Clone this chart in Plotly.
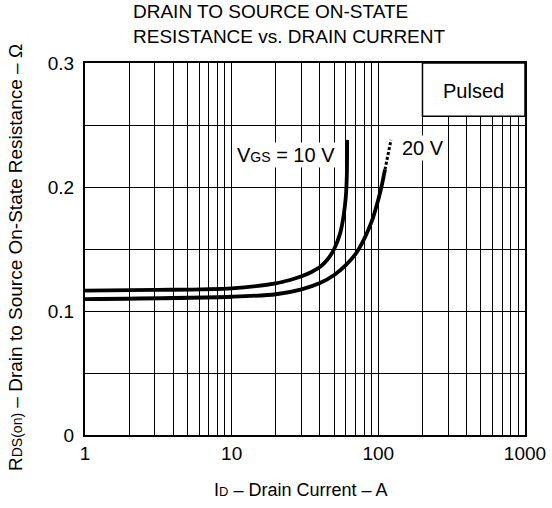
import plotly.graph_objects as go

# Data
vgs10_x = [1, 3, 10, 20, 25, 30, 35, 40, 45, 50, 55, 58, 60, 61, 61.3]
vgs10_y = [0.1165, 0.117, 0.1183, 0.1223, 0.125, 0.128, 0.1315, 0.1355, 0.1415, 0.150, 0.163, 0.177, 0.192, 0.210, 0.238]

vgs20_x = [1, 10, 20, 30, 40, 50, 60, 70, 80, 90, 100, 105, 111]
vgs20_y = [0.1095, 0.1115, 0.1135, 0.1175, 0.1225, 0.129, 0.137, 0.146, 0.158, 0.172, 0.190, 0.200, 0.214]

vgs20_dash_x = [111, 116, 122]
vgs20_dash_y = [0.214, 0.226, 0.238]

x_grid = [m * 10 ** d for d in range(3) for m in range(1, 10)] + [1000]
x_ticktext = [str(v) if v in (1, 10, 100, 1000) else "" for v in x_grid]
y_grid = [0, 0.05, 0.1, 0.15, 0.2, 0.25, 0.3]
y_ticktext = ["0", "", "0.1", "", "0.2", "", "0.3"]

FONT = "Liberation Sans, Arial, Helvetica, sans-serif"
L, R, T, B, W, H = 85, 27, 63, 73, 552, 508
PW, PH = W - L - R, H - T - B


def px(xp):
    return (xp - L) / PW


def py(yp):
    return (H - B - yp) / PH


fig = go.Figure()
fig.add_trace(go.Scatter(x=vgs10_x, y=vgs10_y, mode="lines",
                         line=dict(color="black", width=3.8, shape="spline", smoothing=0.8),
                         hoverinfo="skip", showlegend=False))
fig.add_trace(go.Scatter(x=vgs20_x, y=vgs20_y, mode="lines",
                         line=dict(color="black", width=3.8, shape="spline", smoothing=0.8),
                         hoverinfo="skip", showlegend=False))
fig.add_trace(go.Scatter(x=vgs20_dash_x, y=vgs20_dash_y, mode="lines",
                         line=dict(color="black", width=3, dash="3px,2px"),
                         hoverinfo="skip", showlegend=False))

# "Pulsed" box
fig.add_shape(type="rect", x0=200, x1=1000, y0=0.257, y1=0.3, xref="x", yref="y",
              fillcolor="white", line=dict(color="black", width=1.5), layer="above")
fig.add_annotation(x=2.65, y=0.2775, xref="x", yref="y", text="Pulsed",
                   showarrow=False, font=dict(size=20, color="black", family=FONT))

fig.add_annotation(x=1.718, y=0.2258, xref="x", yref="y", xanchor="right",
                   text="V<span style='font-size:14px'>GS</span> = 10 V",
                   showarrow=False, bgcolor="white", borderpad=1,
                   font=dict(size=20, color="black", family=FONT))
fig.add_annotation(x=2.145, y=0.2315, xref="x", yref="y", xanchor="left",
                   text="20 V", showarrow=False, bgcolor="white", borderpad=1,
                   font=dict(size=20, color="black", family=FONT))

# Titles
fig.add_annotation(x=px(131), y=py(24), xref="paper", yref="paper",
                   xanchor="left", yanchor="middle", align="left",
                   text="DRAIN TO SOURCE ON-STATE<br>RESISTANCE vs. DRAIN CURRENT",
                   showarrow=False, font=dict(size=19, color="black", family=FONT))
fig.add_annotation(x=px(15), y=py(258), xref="paper", yref="paper",
                   xanchor="center", yanchor="middle",
                   textangle=-90, showarrow=False,
                   text="R<span style='font-size:14px'>DS(on)</span> – Drain to Source On-State Resistance – Ω",
                   font=dict(size=19, color="black", family=FONT))
fig.add_annotation(x=px(300), y=py(490), xref="paper", yref="paper",
                   xanchor="center", yanchor="middle",
                   showarrow=False,
                   text="I<span style='font-size:13px'>D</span> – Drain Current – A",
                   font=dict(size=18, color="black", family=FONT))

fig.update_layout(
    width=W, height=H,
    margin=dict(l=L, r=R, t=T, b=B),
    paper_bgcolor="white", plot_bgcolor="white",
    font=dict(family=FONT, color="black", size=19),
    xaxis=dict(type="log", range=[0, 3], tickvals=x_grid, ticktext=x_ticktext,
               showgrid=True, gridcolor="black", gridwidth=1.3,
               showline=True, linecolor="black", linewidth=2, mirror=True,
               ticks="", zeroline=False, tickfont=dict(size=19), automargin=False),
    yaxis=dict(range=[0, 0.3], tickvals=y_grid, ticktext=y_ticktext,
               showgrid=True, gridcolor="black", gridwidth=1.3,
               showline=True, linecolor="black", linewidth=2, mirror=True,
               ticks="", zeroline=False, tickfont=dict(size=19), automargin=False,
               ticklabelstandoff=5),
)

fig.write_html("out.html", config={"displayModeBar": False},
               post_script="document.body.style.margin='0';document.body.style.overflow='hidden';")
